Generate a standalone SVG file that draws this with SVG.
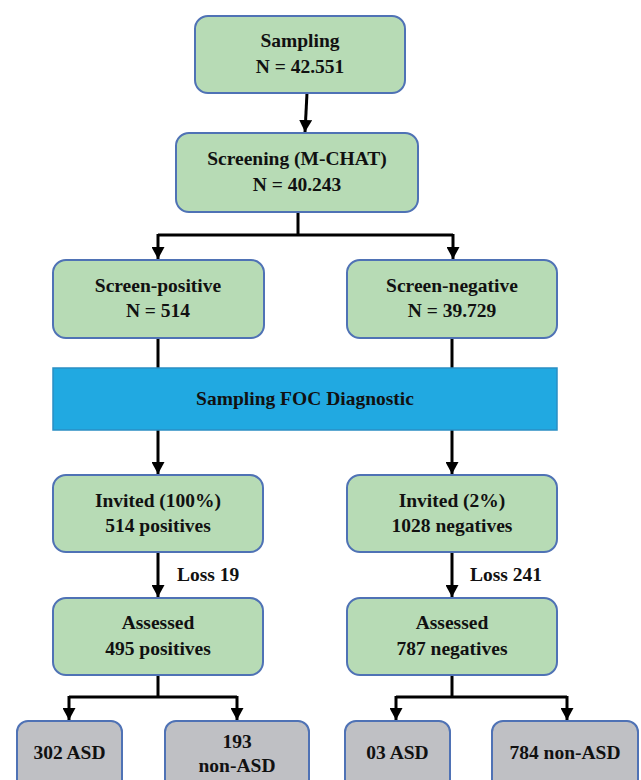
<svg xmlns="http://www.w3.org/2000/svg" width="641" height="780" viewBox="0 0 641 780">
<style>
.g{fill:#b7dbb5;stroke:#4f72b5;stroke-width:2}
.gr{fill:#bfc0c4;stroke:#4f72b5;stroke-width:2}
.bar{fill:#21a9e1;stroke:#2a8fc4;stroke-width:1.5}
text{font-family:"Liberation Serif","Times New Roman",serif;font-weight:bold;font-size:19.5px;fill:#111;text-anchor:middle}
.l{text-anchor:start}
.c line,.c path{stroke:#000;stroke-width:3;fill:none}
</style>
<defs>
<marker id="ah" markerUnits="userSpaceOnUse" markerWidth="13" markerHeight="13" refX="12" refY="6.5" orient="auto">
<path d="M0,0 L12,6.5 L0,13 z" fill="#000"/>
</marker>
</defs>
<rect width="641" height="780" fill="#fff"/>
<g class="c" id="connectors">
<line x1="307" y1="93" x2="305" y2="132" marker-end="url(#ah)"/>
<path d="M298,212 V235"/>
<path d="M158,235 H453"/>
<line x1="158" y1="234" x2="158" y2="259" marker-end="url(#ah)"/>
<line x1="453" y1="234" x2="453" y2="259" marker-end="url(#ah)"/>
<path d="M158,338 V368"/>
<path d="M452,338 V368"/>
<line x1="158" y1="430" x2="158" y2="474" marker-end="url(#ah)"/>
<line x1="452" y1="430" x2="452" y2="474" marker-end="url(#ah)"/>
<line x1="158" y1="552" x2="158" y2="597" marker-end="url(#ah)"/>
<line x1="452" y1="552" x2="452" y2="597" marker-end="url(#ah)"/>
<path d="M158,675 V697"/>
<path d="M69,697 H237"/>
<line x1="69" y1="696" x2="69" y2="720" marker-end="url(#ah)"/>
<line x1="237" y1="696" x2="237" y2="720" marker-end="url(#ah)"/>
<path d="M452,675 V697"/>
<path d="M396,697 H567"/>
<line x1="396" y1="696" x2="396" y2="720" marker-end="url(#ah)"/>
<line x1="567" y1="696" x2="567" y2="720" marker-end="url(#ah)"/>
</g>
<g id="sampling"><rect class="g" x="195" y="16" width="210" height="77" rx="13"/><text x="300" y="47">Sampling</text><text x="300" y="73">N = 42.551</text></g>
<g id="screening"><rect class="g" x="176" y="133" width="242" height="79" rx="13"/><text x="297" y="165">Screening (M-CHAT)</text><text x="297" y="191">N = 40.243</text></g>
<g id="screen-positive"><rect class="g" x="53" y="260" width="211" height="78" rx="13"/><text x="158" y="292">Screen-positive</text><text x="158" y="317">N = 514</text></g>
<g id="screen-negative"><rect class="g" x="347" y="260" width="210" height="78" rx="13"/><text x="452" y="292">Screen-negative</text><text x="452" y="317">N = 39.729</text></g>
<g id="foc"><rect class="bar" x="53" y="368" width="504" height="62"/><text x="305" y="405">Sampling FOC Diagnostic</text></g>
<g id="invited-pos"><rect class="g" x="53" y="475" width="210" height="77" rx="13"/><text x="158" y="507">Invited (100%)</text><text x="158" y="532">514 positives</text></g>
<g id="invited-neg"><rect class="g" x="347" y="475" width="210" height="77" rx="13"/><text x="452" y="507">Invited (2%)</text><text x="452" y="532">1028 negatives</text></g>
<g id="loss19"><text class="l" x="177" y="581">Loss 19</text></g>
<g id="loss241"><text class="l" x="470" y="581">Loss 241</text></g>
<g id="assessed-pos"><rect class="g" x="53" y="598" width="210" height="77" rx="13"/><text x="158" y="629">Assessed</text><text x="158" y="655">495 positives</text></g>
<g id="assessed-neg"><rect class="g" x="347" y="598" width="210" height="77" rx="13"/><text x="452" y="629">Assessed</text><text x="452" y="655">787 negatives</text></g>
<g id="asd302"><rect class="gr" x="17" y="721" width="105" height="75" rx="11"/><text x="69.5" y="759">302 ASD</text></g>
<g id="nonasd193"><rect class="gr" x="165" y="721" width="144" height="75" rx="11"/><text x="237" y="748">193</text><text x="237" y="772">non-ASD</text></g>
<g id="asd03"><rect class="gr" x="345" y="721" width="105" height="75" rx="11"/><text x="397.5" y="759">03 ASD</text></g>
<g id="nonasd784"><rect class="gr" x="492" y="721" width="146" height="75" rx="11"/><text x="565" y="759">784 non-ASD</text></g>
</svg>
